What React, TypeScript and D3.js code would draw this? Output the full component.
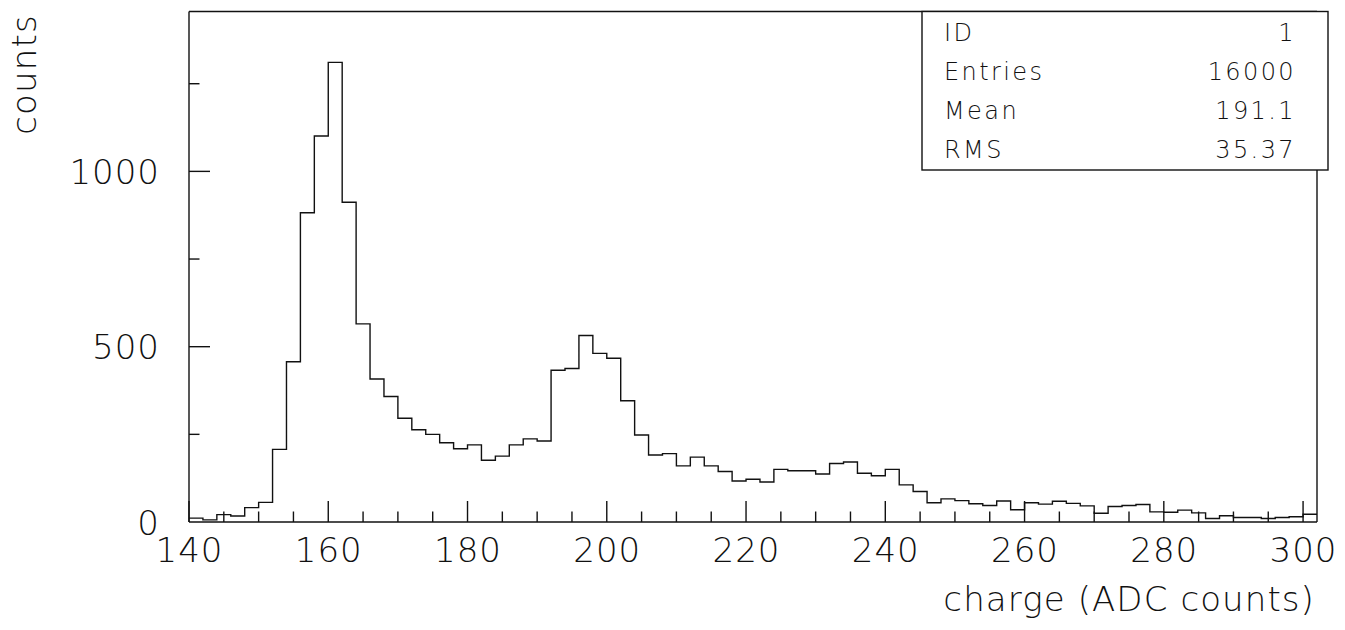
import React from "react";
import * as d3 from "d3";

// Histogram of ADC charge, 2-unit bins starting at 140
const binStart = 140;
const binWidth = 2;
const counts: number[] = [
  11, 6, 21, 17, 41, 56, 207, 457, 882, 1101,
  1311, 912, 565, 408, 358, 296, 263, 250, 226, 209,
  220, 176, 188, 220, 237, 231, 433, 438, 532, 481,
  467, 346, 248, 191, 195, 160, 185, 160, 144, 117,
  122, 114, 150, 146, 146, 137, 167, 171, 139, 132,
  150, 106, 87, 55, 66, 61, 52, 47, 60, 35,
  55, 51, 59, 53, 46, 25, 44, 47, 50, 29,
  28, 34, 26, 10, 18, 13, 13, 10, 13, 15,
  22,
];

const xTickLabels = [140, 160, 180, 200, 220, 240, 260, 280, 300];
const yTickLabels = [0, 500, 1000];

const statLabels = ["ID", "Entries", "Mean", "RMS"];
const statValues = ["1", "16000", "191.1", "35.37"];

const xTitle = "charge (ADC counts)";
const yTitle = "counts";

const W = 1345;
const H = 630;
const frame = { left: 189, right: 1317, top: 11.5, bottom: 522 };
const FONT = "'DejaVu Sans', sans-serif";
const INK = "#111";

export default function App() {
  const xMax = binStart + counts.length * binWidth;
  const x = d3.scaleLinear().domain([binStart, xMax]).range([frame.left, frame.right]);
  const y = d3.scaleLinear().domain([0, 1456]).range([frame.bottom, frame.top]);

  // step outline of the histogram
  const pts: [number, number][] = [];
  counts.forEach((c, i) => {
    const lo = binStart + i * binWidth;
    pts.push([x(lo), y(c)]);
    pts.push([x(lo + binWidth), y(c)]);
  });
  const stepPath = d3.line()(pts) ?? "";

  const xMinor = d3.range(binStart, xMax + 0.001, 5).filter((v) => v % 20 !== 0);
  const xMajor = d3.range(binStart, xMax + 0.001, 20);
  const yMinor = d3.range(250, 1456, 500);
  const yMajor = d3.range(500, 1456, 500);

  const box = { x0: 922, x1: 1328, y0: frame.top, y1: 170 };
  const rowH = 39;

  return (
    <svg
      width={W}
      height={H}
      style={{ position: "absolute", left: 0, top: 0, background: "#fff" }}
      fontFamily={FONT}
      fontWeight={200}
    >
      <rect x={0} y={0} width={W} height={H} fill="#fff" />

      {/* frame */}
      <g stroke={INK} strokeWidth={1.4} fill="none">
        <line x1={frame.left} x2={frame.left} y1={frame.top} y2={frame.bottom} />
        <line x1={frame.left} x2={frame.right} y1={frame.bottom} y2={frame.bottom} />
        <line x1={frame.right} x2={frame.right} y1={frame.top} y2={frame.bottom} />
        <line x1={frame.left} x2={frame.right} y1={frame.top} y2={frame.top} />
      </g>

      {/* ticks */}
      <g stroke={INK} strokeWidth={1.4}>
        {xMinor.map((v) => (
          <line key={"xm" + v} x1={x(v)} x2={x(v)} y1={frame.bottom} y2={frame.bottom - 10.5} />
        ))}
        {xMajor.map((v) => (
          <line key={"xM" + v} x1={x(v)} x2={x(v)} y1={frame.bottom} y2={frame.bottom - 21} />
        ))}
        {yMinor.map((v) => (
          <line key={"ym" + v} x1={frame.left} x2={frame.left + 10.5} y1={y(v)} y2={y(v)} />
        ))}
        {yMajor.map((v) => (
          <line key={"yM" + v} x1={frame.left} x2={frame.left + 21} y1={y(v)} y2={y(v)} />
        ))}
      </g>

      {/* histogram */}
      <path d={stepPath} fill="none" stroke={INK} strokeWidth={1.4} />

      {/* tick labels */}
      <g fill={INK} fontSize={34} letterSpacing={1}>
        {xTickLabels.map((v) => (
          <text key={"xl" + v} x={x(v) + 0.5} y={562} textAnchor="middle">
            {v}
          </text>
        ))}
        {yTickLabels.map((v) => (
          <text key={"yl" + v} x={160} y={y(v) + 12.5} textAnchor="end">
            {v}
          </text>
        ))}
      </g>

      {/* axis titles */}
      <text x={1315} y={611} textAnchor="end" fontSize={34} fill={INK} letterSpacing={1.1}>
        {xTitle}
      </text>
      <text
        transform={`translate(${36},${14}) rotate(-90)`}
        textAnchor="end"
        fontSize={34}
        fill={INK}
        letterSpacing={1.2}
      >
        {yTitle}
      </text>

      {/* statistics box */}
      <rect
        x={box.x0}
        y={box.y0}
        width={box.x1 - box.x0}
        height={box.y1 - box.y0}
        fill="#fff"
        stroke={INK}
        strokeWidth={1.4}
      />
      <g fontSize={24} fill={INK} letterSpacing={2.4}>
        {statLabels.map((s, i) => (
          <text key={"sl" + s} x={944} y={41 + i * rowH}>
            {s}
          </text>
        ))}
        {statValues.map((s, i) => (
          <text key={"sv" + i} x={1296} y={41 + i * rowH} textAnchor="end">
            {s}
          </text>
        ))}
      </g>
    </svg>
  );
}
